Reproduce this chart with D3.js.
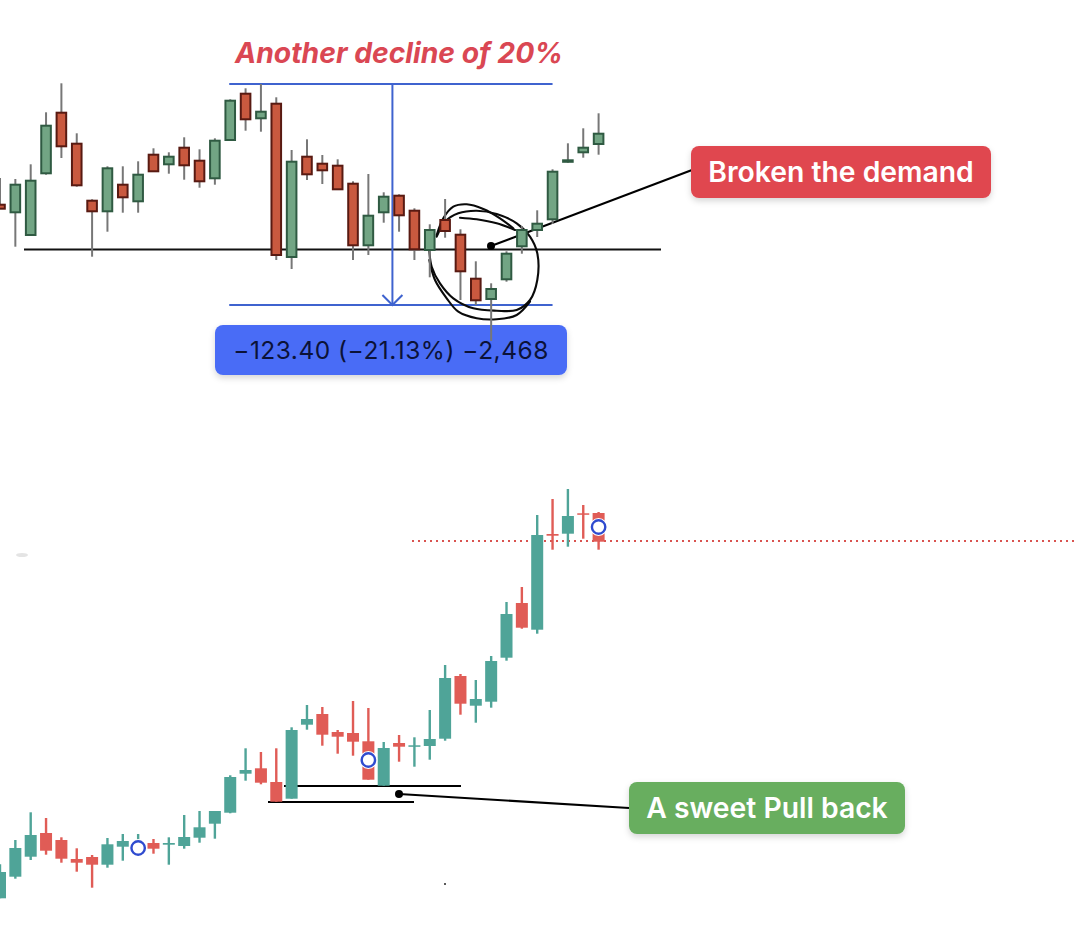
<!DOCTYPE html>
<html>
<head>
<meta charset="utf-8">
<title>Pull back and demand break</title>
<script src="https://cdn.jsdelivr.net/npm/d3@7"></script>
<style>
  html, body { margin: 0; padding: 0; background: #fff; }
  svg { display: block; font-family: Inter, "Noto Sans", sans-serif; }
</style>
</head>
<body>
<div id="chart"></div>
<script>
// Upper chart candles (chart units, no axis shown)
var topOpen = [795.3,787.7,765,826.7,887.3,856.3,799.3,788.7,815.3,798.7,845.3,835.7,852.3,839.3,821.7,860,906.3,881.7,896.3,743,843.3,836.3,834.3,816.3,754.7,787.7,804.3,789.3,750,780,765.3,721.3,701,720.7,753.7,770,780.7,838.3,847.7,856];
var topHigh = [822,821,835.7,887.7,916.7,866.7,800.7,833.7,833.7,838.7,851.7,847.7,862.7,850.7,861.7,900.7,911.7,916,902.7,850,860.7,845,840.7,818.7,826,807.7,805.7,791.7,775.7,801,770.7,738.7,716.7,748.7,774,789.7,830.7,856.7,871.7,886.7];
var topLow = [791,753.3,765,825.3,842,813.3,743.3,768.3,787.3,787.3,828.7,826.3,820.3,812.3,815.3,860,869.3,868.3,740,731,820,816,810,740,745,777.3,768.3,740,722.7,762.3,700,695,659,718.3,746.3,763,776,837.3,842.3,845.3];
var topClose = [791.3,815.3,819.3,874.3,853.7,814.7,788.7,831.7,802.7,825.3,828.7,843.3,834.7,818.7,859.3,899.3,880.7,888.3,745,838.3,825.7,829.7,810.7,754.7,784.3,803.3,784.7,750.7,770,769,728.7,699.7,711,746.3,770,776.3,828.3,839.7,852.3,866.3];

// Lower chart candles
var lowOpen = [101.7,123.3,143.3,167,160,141,143,135.3,153.3,150,157,155.3,154,162.3,176.3,187.3,226.3,231.7,218,201.3,275.3,286,268,267,258.7,214.3,257,253.3,254,261.3,324,294.3,298.3,342.3,397,370.3,466,466.3,486.7,487];
var lowHigh = [135.7,160,187.7,182,162.7,151.7,145,162,166,166,161,162.7,185,189,189,224.7,251.7,248,251.7,272.7,295,293,270,299,292,258,265,262.7,290,335,326,320,344,398,413,485,501,511,495,488];
var lowLow = [101.7,121.3,140,145.3,137.3,128.3,112.3,132.3,139.3,147,146.3,135.3,151.3,157.3,161.3,186.7,219.3,215.7,198.3,201.3,270.3,254.3,246.3,244.3,220.3,214.3,238.3,233.3,240.3,259.3,285.3,277.3,292.3,339.3,371.3,366.3,450.3,453.3,461.3,450.3];
var lowClose = [128,152,165,149.3,141.3,137.3,135.3,155.7,159,155,151.3,157,163,172.7,189,223,230,217.3,198.3,270,281,265.3,263.3,258.3,220.3,252,253.3,254.7,261,322,296.3,301,339,386,372.3,465,464.3,484,485.3,458.3];

// Blue ring markers on the lower chart
var markerBar = [9, 24, 39];
var markerValue = [152, 240, 473];

// Measure tool on the upper chart
var measureHigh = 916;
var measureLow = 695;
var measureFrom = 15;
var measureTo = 36;

var titleText = "Another decline of 20%";
var measureText = "\u2212123.40 (\u221221.13%) \u22122,468";
var redLabel = "Broken the demand";
var greenLabel = "A sweet Pull back";

var width = 1074, height = 938;

var svg = d3.select("#chart").append("svg")
  .attr("width", width)
  .attr("height", height)
  .attr("viewBox", [0, 0, width, height]);

var shadow = svg.append("defs").append("filter")
  .attr("id", "shadow")
  .attr("x", "-10%").attr("y", "-20%")
  .attr("width", "120%").attr("height", "150%");
shadow.append("feDropShadow")
  .attr("dx", 0).attr("dy", 3)
  .attr("stdDeviation", 3)
  .attr("flood-color", "#000")
  .attr("flood-opacity", 0.16);

// Same bar spacing on both charts
var x = d3.scaleLinear().domain([0, 39]).range([0, 598.6]);
var yTop = d3.scaleLinear().domain([1000, 0]).range([0, 1000]);
var yLow = d3.scaleLinear().domain([1000, 0]).range([0, 1000]);

function label(text, left, top, w, h, fill, color, size, weight) {
  svg.append("rect")
    .attr("x", left).attr("y", top)
    .attr("width", w).attr("height", h)
    .attr("rx", 8)
    .attr("fill", fill)
    .attr("filter", "url(#shadow)");
  return svg.append("text")
    .attr("x", left + w / 2)
    .attr("y", top + h / 2 + size * 0.36)
    .attr("text-anchor", "middle")
    .attr("font-size", size)
    .attr("font-weight", weight)
    .attr("fill", color)
    .text(text);
}

function drawCandles(open, high, low, close, y, opt) {
  var idx = d3.range(open.length);
  var g = svg.append("g");
  g.selectAll("line")
    .data(idx)
    .join("line")
    .attr("x1", d => x(d))
    .attr("x2", d => x(d))
    .attr("y1", d => y(high[d]))
    .attr("y2", d => y(low[d]))
    .attr("stroke", d => opt.wick || (close[d] >= open[d] ? opt.up : opt.down))
    .attr("stroke-width", opt.wickWidth);
  g.selectAll("rect")
    .data(idx)
    .join("rect")
    .attr("x", d => x(d) - opt.body / 2)
    .attr("width", opt.body)
    .attr("y", d => y(Math.max(open[d], close[d])))
    .attr("height", d => Math.max(1.5, Math.abs(y(open[d]) - y(close[d]))))
    .attr("fill", d => close[d] >= open[d] ? opt.up : opt.down)
    .attr("stroke", d => opt.upEdge ? (close[d] >= open[d] ? opt.upEdge : opt.downEdge) : "none")
    .attr("stroke-width", opt.upEdge ? 2 : 0);
}

// ---- upper chart ----
svg.append("text")
  .attr("x", 399)
  .attr("y", 63)
  .attr("text-anchor", "middle")
  .attr("font-size", 28.3)
  .attr("font-weight", 700)
  .attr("font-style", "italic")
  .attr("fill", "#da4753")
  .text(titleText);

// support line
svg.append("line")
  .attr("x1", 24).attr("x2", 661)
  .attr("y1", 249.5).attr("y2", 249.5)
  .attr("stroke", "#111")
  .attr("stroke-width", 2);

// line from the dot to the red label
svg.append("line")
  .attr("x1", 491).attr("y1", 246)
  .attr("x2", 692).attr("y2", 170)
  .attr("stroke", "#000")
  .attr("stroke-width", 2.2);

label(measureText, 215, 325, 352, 50, "#4a6cf6", "#0b1238", 24.5, 400)
  .attr("letter-spacing", 0.5);

// measure tool
var blue = "#3f63cf";
var mx = x(25) + 8.7;
var measure = svg.append("g").attr("stroke", blue).attr("stroke-width", 2).attr("fill", "none");
[measureHigh, measureLow].forEach(v => {
  measure.append("line")
    .attr("x1", x(measureFrom) - 1).attr("x2", x(measureTo))
    .attr("y1", yTop(v)).attr("y2", yTop(v));
});
measure.append("line")
  .attr("x1", mx).attr("x2", mx)
  .attr("y1", yTop(measureHigh)).attr("y2", yTop(measureLow));
measure.append("path")
  .attr("d", d3.line()([[mx - 10, yTop(measureLow) - 10], [mx, yTop(measureLow)], [mx + 10, yTop(measureLow) - 10]]));

// hand drawn circle around the break, the candles sit on top of it
var pen = d3.line().curve(d3.curveCatmullRom.alpha(0.5));
var strokes = [
  [[436.7,235],[443.3,218.3],[453.3,206.7],[466.7,204.3],[483.3,209],[500,218.3],[513.3,228.3]],
  [[436.7,236.7],[445,221.7],[458.3,213.3],[476.7,210.7],[496.7,214],[516.7,223.3],[530,236.7],[537.3,253.3],[537.3,280],[530,300],[516.7,310],[496.7,310.7],[473.3,308.3],[453.3,298.3],[440,283.3],[431.7,266.7],[429.3,250]],
  [[429.3,260],[435,280],[446.7,298.3],[458.3,311.7],[476.7,318.3],[496.7,319.3],[516.7,315],[530,301.7]],
  [[460,217.7],[476.7,219.3],[496.7,223.3],[515,230]]
];
svg.append("g")
  .selectAll("path")
  .data(strokes)
  .join("path")
  .attr("d", d => pen(d))
  .attr("fill", "none")
  .attr("stroke", "#0a0a0a")
  .attr("stroke-width", 2.1)
  .attr("stroke-linecap", "round");

svg.append("circle")
  .attr("cx", 491).attr("cy", 246).attr("r", 4)
  .attr("fill", "#000");

drawCandles(topOpen, topHigh, topLow, topClose, yTop, {
  up: "#72a584", down: "#c9593f",
  upEdge: "#2f5a42", downEdge: "#581a12",
  wick: "#777", wickWidth: 2, body: 9.6
});

label(redLabel, 691, 146, 300, 52, "#e0474f", "#fff", 28.3, 600);

// ---- lower chart ----
// resistance line, dotted
svg.append("line")
  .attr("x1", 412).attr("x2", width)
  .attr("y1", 541).attr("y2", 541)
  .attr("stroke", "#d9534f")
  .attr("stroke-width", 2)
  .attr("stroke-dasharray", "2 4");

// pull back lines and the leader to the green label
var lines = [[284, 786, 461, 786], [268, 802, 414, 802], [399, 794, 629, 808]];
svg.append("g")
  .selectAll("line")
  .data(lines)
  .join("line")
  .attr("x1", d => d[0]).attr("y1", d => d[1])
  .attr("x2", d => d[2]).attr("y2", d => d[3])
  .attr("stroke", "#000")
  .attr("stroke-width", 2.2);

drawCandles(lowOpen, lowHigh, lowLow, lowClose, yLow, {
  up: "#4fa498", down: "#e05c56", wickWidth: 2.4, body: 12
});

svg.append("circle")
  .attr("cx", 399).attr("cy", 794).attr("r", 4)
  .attr("fill", "#000");

var rings = svg.append("g");
rings.selectAll("circle")
  .data(d3.range(markerBar.length))
  .join("circle")
  .attr("cx", d => x(markerBar[d]))
  .attr("cy", d => yLow(markerValue[d]))
  .attr("r", 7)
  .attr("fill", "#fff")
  .attr("stroke", "#fff")
  .attr("stroke-width", 4);
rings.selectAll("circle.ring")
  .data(d3.range(markerBar.length))
  .join("circle")
  .attr("class", "ring")
  .attr("cx", d => x(markerBar[d]))
  .attr("cy", d => yLow(markerValue[d]))
  .attr("r", 6.7)
  .attr("fill", "none")
  .attr("stroke", "#2f4bcf")
  .attr("stroke-width", 2.4);

label(greenLabel, 629, 782, 276, 52, "#67ae5e", "#fff", 28.3, 600);

// small specks left in the screenshot
svg.append("circle").attr("cx", 445).attr("cy", 884).attr("r", 1).attr("fill", "#222");
svg.append("ellipse").attr("cx", 22).attr("cy", 555).attr("rx", 6).attr("ry", 2).attr("fill", "#e4e4e4");
</script>
</body>
</html>
